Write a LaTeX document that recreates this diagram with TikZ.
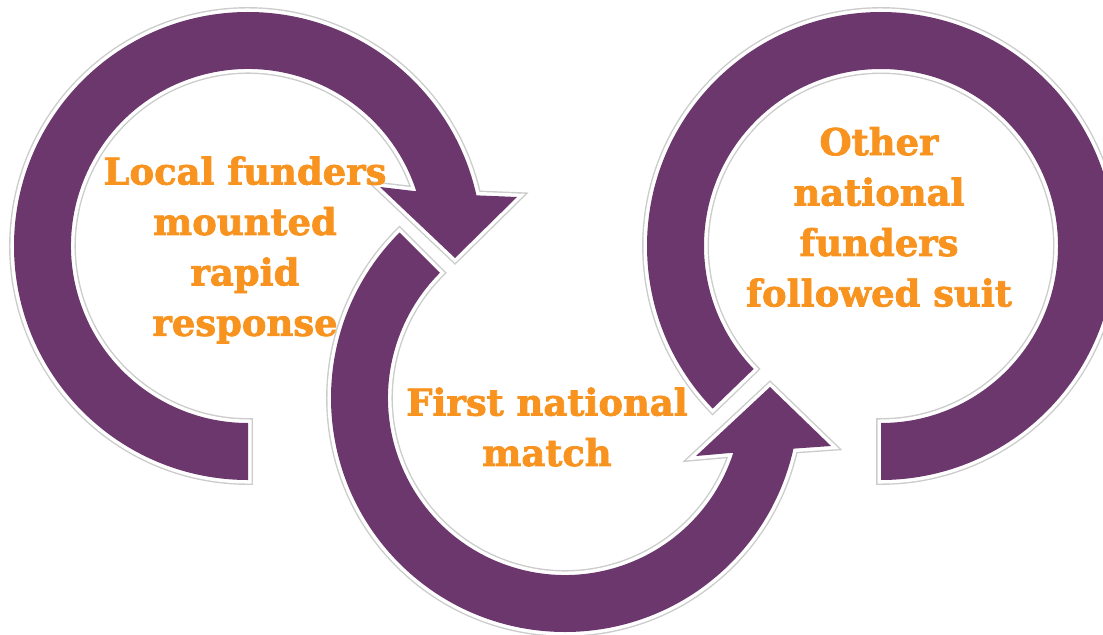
\documentclass[tikz,border=0pt]{standalone}
\usepackage{fontspec}
\setmainfont{DejaVu Serif}[BoldFeatures={FakeBold=2}]
\usepackage{tikz}
\usetikzlibrary{calc}
\definecolor{ringpurple}{HTML}{6B376D}
\definecolor{textorange}{HTML}{F7931E}

\tikzset{
  ringband/.style={fill=ringpurple,
    preaction={draw=black!20,line width=5.6pt},
    preaction={draw=white,line width=4pt}},
  steplabel/.style={text=textorange,align=center,inner sep=0pt,
    font=\bfseries\fontsize{21}{28.7}\selectfont}
}

\begin{document}
\begin{tikzpicture}[x=0.2mm,y=0.2mm]
	\useasboundingbox (0,0) rectangle (1103,634);
	\coordinate (lc) at (248,388);
	\coordinate (mc) at (565,236);
	\coordinate (rc) at (881,388);

	% right ring, two flat ends
	\fill[ringband] ([shift={(rc)}]224:177) -- ([shift={(rc)}]224:234)
		arc[start angle=224,end angle=-90,radius=234]
		-- ([shift={(rc)}]-90:177)
		arc[start angle=-90,end angle=224,radius=177] -- cycle;

	% left ring, head on the right
	\fill[ringband] ([shift={(lc)}]270:177) -- ([shift={(lc)}]270:234)
		arc[start angle=270,end angle=12.5,radius=234]
		-- ([shift={(lc)}]269,49) -- ([shift={(lc)}]207,-12) -- ([shift={(lc)}]132,59)
		-- ([shift={(lc)}]18:177)
		arc[start angle=18,end angle=270,radius=177] -- cycle;

	% middle ring, head pointing up
	\fill[ringband] ([shift={(mc)}]135:177) -- ([shift={(mc)}]135:234)
		arc[start angle=135,end angle=347.5,radius=234]
		-- ([shift={(mc)}]266,-48) -- ([shift={(mc)}]205,11) -- ([shift={(mc)}]131,-58)
		-- ([shift={(mc)}]342:177)
		arc[start angle=342,end angle=135,radius=177] -- cycle;

	\node[steplabel] (local) at (245,384) {Local funders\\mounted\\rapid\\response};
	\node[steplabel] (first) at (547,207) {First national\\match};
	\node[steplabel] (other) at (879,417) {Other\\national\\funders\\followed suit};
\end{tikzpicture}
\end{document}
